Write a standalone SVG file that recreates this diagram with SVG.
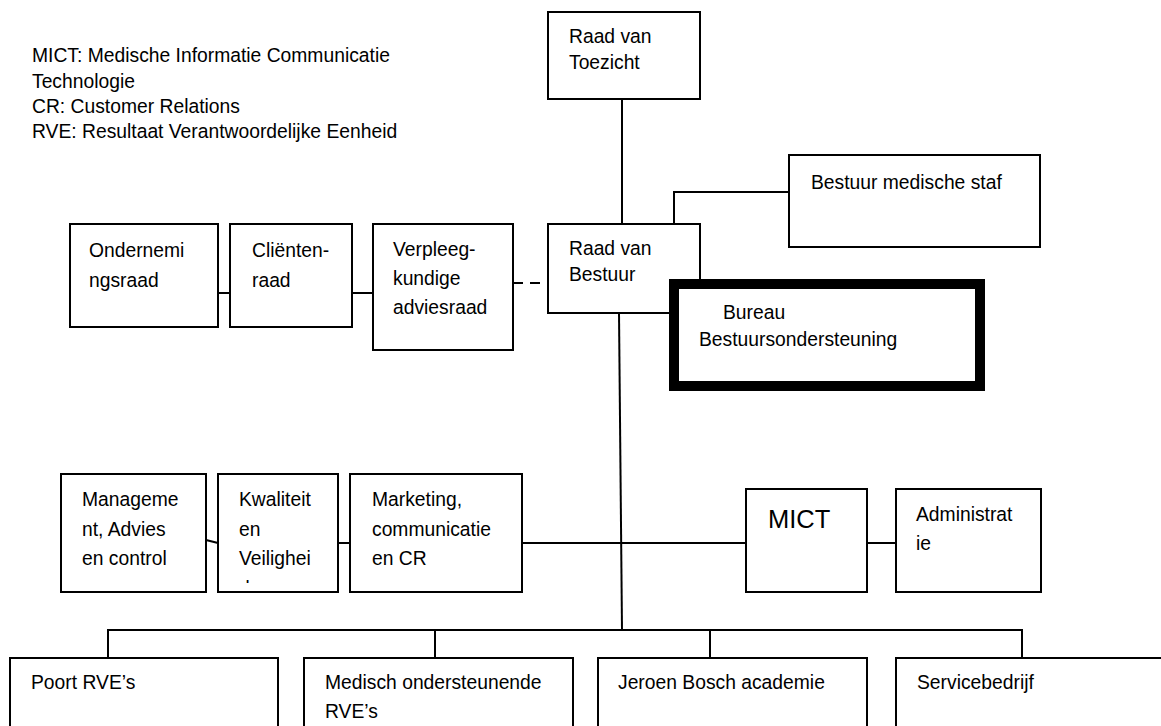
<svg xmlns="http://www.w3.org/2000/svg" width="1161" height="726" viewBox="0 0 1161 726">
<style>
text{font-family:"Liberation Sans",Arial,sans-serif;font-size:19.3px;fill:#000}
.box{fill:#fff;stroke:#000;stroke-width:2}
.thick{fill:#fff;stroke:#000;stroke-width:10}
.ln{fill:none;stroke:#000;stroke-width:2}
.big{font-size:25.5px}
</style>
<defs>
<clipPath id="kwclip"><rect x="218" y="474" width="120" height="109"/></clipPath>
</defs>
<rect width="1161" height="726" fill="#fff"/>
<g id="legend">
<text x="32" y="62">MICT: Medische Informatie Communicatie</text>
<text x="32" y="87.5">Technologie</text>
<text x="32" y="113">CR: Customer Relations</text>
<text x="32" y="138">RVE: Resultaat Verantwoordelijke Eenheid</text>
</g>
<g id="connectors">
<path class="ln" d="M622,99 V224"/>
<path class="ln" d="M674,224 V192 H789"/>
<path class="ln" d="M218,293 H230"/>
<path class="ln" d="M352,293 H373"/>
<path class="ln" d="M513,283 H548" stroke-dasharray="10 7"/>
<path class="ln" d="M619,313 L622,630"/>
<path class="ln" d="M522,543 H746"/>
<path class="ln" d="M206,540 L218,543"/>
<path class="ln" d="M338,543 H350"/>
<path class="ln" d="M867,543 H896"/>
<path class="ln" d="M108,658 V630 H1022 V658"/>
<path class="ln" d="M435,630 V658"/>
<path class="ln" d="M710,630 V658"/>
</g>
<g id="raad-van-toezicht">
<rect class="box" x="548" y="12" width="152" height="87"/>
<text x="569" y="43">Raad van</text>
<text x="569" y="69">Toezicht</text>
</g>
<g id="bestuur-medische-staf">
<rect class="box" x="789" y="155" width="251" height="92"/>
<text x="811" y="189">Bestuur medische staf</text>
</g>
<g id="ondernemingsraad">
<rect class="box" x="70" y="224" width="148" height="103"/>
<text x="89" y="256.5">Ondernemi</text>
<text x="89" y="286.5">ngsraad</text>
</g>
<g id="clientenraad">
<rect class="box" x="230" y="224" width="122" height="103"/>
<text x="252" y="256.5">Cliënten-</text>
<text x="252" y="286.5">raad</text>
</g>
<g id="verpleegkundige-adviesraad">
<rect class="box" x="373" y="224" width="140" height="126"/>
<text x="393" y="256">Verpleeg-</text>
<text x="393" y="285">kundige</text>
<text x="393" y="314">adviesraad</text>
</g>
<g id="raad-van-bestuur">
<rect class="box" x="548" y="224" width="152" height="89"/>
<text x="569" y="255">Raad van</text>
<text x="569" y="280.5">Bestuur</text>
</g>
<g id="bureau-bestuursondersteuning">
<rect class="thick" x="674" y="284" width="306" height="102"/>
<text x="723" y="319">Bureau</text>
<text x="699" y="345.5">Bestuursondersteuning</text>
</g>
<g id="management">
<rect class="box" x="61" y="474" width="145" height="118"/>
<text x="82" y="505.5">Manageme</text>
<text x="82" y="535.5">nt, Advies</text>
<text x="82" y="565">en control</text>
</g>
<g id="kwaliteit">
<rect class="box" x="218" y="474" width="120" height="118"/>
<text x="239" y="505.5">Kwaliteit</text>
<text x="239" y="535.5">en</text>
<text x="239" y="565">Veilighei</text>
<text x="239" y="595" clip-path="url(#kwclip)">d</text>
</g>
<g id="marketing">
<rect class="box" x="350" y="474" width="172" height="118"/>
<text x="372" y="505.5">Marketing,</text>
<text x="372" y="535.5">communicatie</text>
<text x="372" y="565">en CR</text>
</g>
<g id="mict">
<rect class="box" x="746" y="489" width="121" height="103"/>
<text class="big" x="768" y="528">MICT</text>
</g>
<g id="administratie">
<rect class="box" x="896" y="489" width="145" height="103"/>
<text x="916" y="520.5">Administrat</text>
<text x="916" y="550">ie</text>
</g>
<g id="poort-rves">
<rect class="box" x="10" y="658" width="268" height="90"/>
<text x="31" y="689">Poort RVE’s</text>
</g>
<g id="medisch-ondersteunende">
<rect class="box" x="304" y="658" width="269" height="90"/>
<text x="325" y="689">Medisch ondersteunende</text>
<text x="325" y="718">RVE’s</text>
</g>
<g id="jeroen-bosch">
<rect class="box" x="598" y="658" width="269" height="90"/>
<text x="618" y="689">Jeroen Bosch academie</text>
</g>
<g id="servicebedrijf">
<rect class="box" x="896" y="658" width="280" height="90"/>
<text x="917" y="689">Servicebedrijf</text>
</g>
</svg>
